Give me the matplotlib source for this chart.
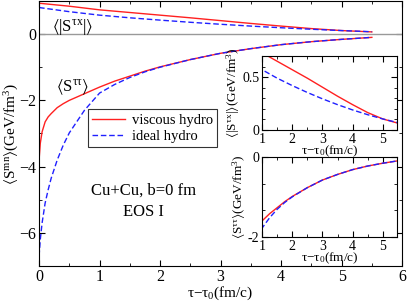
import matplotlib
matplotlib.use("Agg")
import matplotlib.pyplot as plt
from matplotlib.ticker import MultipleLocator

plt.rcParams['font.family'] = ['Liberation Serif', 'DejaVu Serif']
plt.rcParams['mathtext.fontset'] = 'custom'
plt.rcParams['mathtext.rm'] = 'Liberation Serif'
plt.rcParams['mathtext.it'] = 'Liberation Serif:italic'
plt.rcParams['mathtext.default'] = 'regular'

# tau - tau0 (fm/c)
tau = [0, 0.02, 0.05, 0.1, 0.15, 0.2, 0.3, 0.4, 0.5, 0.75, 1.0, 1.25, 1.5,
       1.75, 2.0, 2.5, 3.0, 3.5, 4.0, 4.5, 5.0, 5.5]

# <S^tautau>
stt_visc = [-3.8, -3.3, -2.95, -2.65, -2.5, -2.4, -2.22, -2.1, -2.0, -1.8, -1.6,
            -1.42, -1.27, -1.12, -0.99, -0.77, -0.58, -0.44, -0.32, -0.23, -0.16, -0.1]
stt_ideal = [-6.7, -6.2, -5.7, -5.1, -4.7, -4.35, -3.8, -3.35, -2.98, -2.3, -1.78,
             -1.52, -1.31, -1.14, -1.0, -0.77, -0.58, -0.44, -0.32, -0.23, -0.16, -0.1]

# <|S^taux|>
tau_x = [0, 0.5, 1.0, 1.5, 2.0, 2.5, 3.0, 3.5, 4.0, 4.5, 5.0, 5.5]
stx_visc = [0.93, 0.84, 0.73, 0.65, 0.57, 0.49, 0.405, 0.32, 0.24, 0.165, 0.105, 0.065]
stx_ideal = [0.8, 0.675, 0.57, 0.49, 0.42, 0.355, 0.295, 0.24, 0.19, 0.145, 0.105, 0.07]

red = '#ff2020'
blue = '#2020ff'
unit = '(GeV/fm$^3$)'
xlab = 'τ−τ$_0$(fm/c)'


def style_ticks(ax, size):
    ax.tick_params(which='both', direction='in', top=True, right=True, labelsize=size, pad=2)
    ax.tick_params(which='major', length=4)
    ax.tick_params(which='minor', length=2)


fig = plt.figure(figsize=(4.07, 3.01), dpi=100)
ax = fig.add_axes([0.096, 0.116, 0.892, 0.881])
ax.axhline(0, color='#999999', lw=1)
ax.plot(tau_x, stx_visc, color=red, lw=1)
ax.plot(tau_x, stx_ideal, color=blue, lw=1, ls=(0, (4, 2)))
ax.plot(tau, stt_visc, color=red, lw=1, label='viscous hydro')
ax.plot(tau, stt_ideal, color=blue, lw=1, ls=(0, (4, 2)), label='ideal hydro')
ax.set_xlim(0, 6)
ax.set_ylim(-7, 1)
ax.xaxis.set_major_locator(MultipleLocator(1))
ax.xaxis.set_minor_locator(MultipleLocator(0.5))
ax.yaxis.set_major_locator(MultipleLocator(2))
ax.yaxis.set_minor_locator(MultipleLocator(1))
style_ticks(ax, 11.5)
ax.set_xlabel(xlab, fontsize=11, labelpad=-0.5)
ax.set_ylabel(r'$\langle$S$^{mn}\rangle$' + unit, fontsize=11, labelpad=-1)
ax.text(0.55, 0.22, r'$\langle$|S$^{τx}$|$\rangle$', fontsize=12, ha='center', va='center')
ax.text(0.55, -1.6, r'$\langle$S$^{ττ}\rangle$', fontsize=12, ha='center', va='center')
ax.text(1.72, -4.73, 'Cu+Cu, b=0 fm', fontsize=12, ha='center', va='center')
ax.text(1.72, -5.37, 'EOS I', fontsize=12, ha='center', va='center')
leg = ax.legend(loc='upper left', bbox_to_anchor=(0.135, 0.592), fontsize=10.5,
                frameon=True, fancybox=False, edgecolor='black', handlelength=2.2,
                borderpad=0.3, labelspacing=0.2, handletextpad=0.5, borderaxespad=0)
leg.get_frame().set_linewidth(0.8)

# inset: <|S^taux|>
ax1 = fig.add_axes([0.644, 0.568, 0.332, 0.246])
ax1.plot(tau_x, stx_visc, color=red, lw=1)
ax1.plot(tau_x, stx_ideal, color=blue, lw=1, ls=(0, (4, 2)))
ax1.set_xlim(1, 5.48)
ax1.set_ylim(0, 0.7)
ax1.xaxis.set_major_locator(MultipleLocator(1))
ax1.xaxis.set_minor_locator(MultipleLocator(0.5))
ax1.set_yticks([0, 0.5], ['0', '0.5'])
ax1.yaxis.set_minor_locator(MultipleLocator(0.1))
style_ticks(ax1, 10)
ax1.set_xlabel(xlab, fontsize=9.5, labelpad=-1.5)
ax1.set_ylabel(r'$\langle$|S$^{τx}$|$\rangle$' + unit, fontsize=9.5, labelpad=0)

# inset: <S^tautau>
ax2 = fig.add_axes([0.644, 0.213, 0.332, 0.266])
ax2.plot(tau, stt_visc, color=red, lw=1)
ax2.plot(tau, stt_ideal, color=blue, lw=1, ls=(0, (4, 2)))
ax2.set_xlim(1, 5.48)
ax2.set_ylim(-2, 0)
ax2.xaxis.set_major_locator(MultipleLocator(1))
ax2.xaxis.set_minor_locator(MultipleLocator(0.5))
ax2.set_yticks([-2, 0], ['-2', '0'])
ax2.yaxis.set_minor_locator(MultipleLocator(2 / 3))
style_ticks(ax2, 10)
ax2.set_xlabel(xlab, fontsize=9.5, labelpad=-1.5)
ax2.set_ylabel(r'$\langle$S$^{ττ}\rangle$' + unit, fontsize=9.5, labelpad=0)

fig.savefig('out.png', dpi=100)
